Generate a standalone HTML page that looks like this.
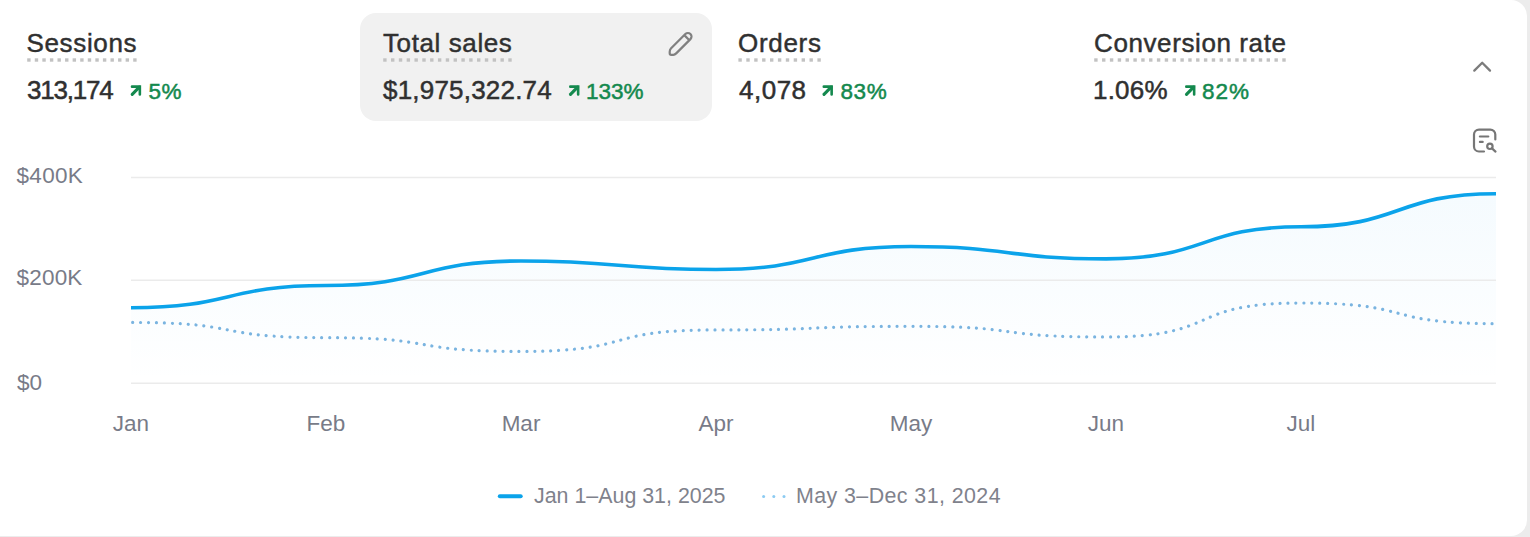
<!DOCTYPE html>
<html><head><meta charset="utf-8">
<style>
html,body{margin:0;padding:0;width:1530px;height:537px;overflow:hidden;background:#ececec;}
body{font-family:"Liberation Sans",sans-serif;position:relative;}
.card{position:absolute;left:-20px;top:0;width:1547px;height:536px;background:#fff;border-radius:16px;}
.t{position:absolute;white-space:nowrap;line-height:1;}
.lbl{font-size:26px;color:#303030;-webkit-text-stroke:0.45px #303030;}
.num{font-size:26px;color:#303030;-webkit-text-stroke:0.5px #303030;}
.pct{font-size:22.5px;color:#14894e;-webkit-text-stroke:0.5px #14894e;}
.ax{font-size:22.5px;color:#787b88;}
.xl{width:100px;text-align:center;top:412.85px;}
.lg{font-size:21.4px;color:#7f828c;}
.sel{position:absolute;left:360px;top:13px;width:351.5px;height:108px;background:#f1f1f1;border-radius:16px;}
svg{position:absolute;left:0;top:0;}
</style></head><body>
<div class="card"></div>
<div class="sel"></div>

<div class="t lbl" style="left:26.5px;top:29.6px;letter-spacing:0.65px">Sessions</div>
<div class="t num" style="left:27px;top:77.2px;letter-spacing:-1.2px">313,174</div>
<div class="t pct" style="left:148.5px;top:81.15px;letter-spacing:0.5px">5%</div>

<div class="t lbl" style="left:383px;top:29.6px;letter-spacing:0.6px">Total sales</div>
<div class="t num" style="left:383px;top:77.2px;letter-spacing:0.2px">$1,975,322.74</div>
<div class="t pct" style="left:586px;top:81.15px">133%</div>

<div class="t lbl" style="left:738px;top:29.6px;letter-spacing:0.7px">Orders</div>
<div class="t num" style="left:739px;top:77.2px;letter-spacing:0.5px">4,078</div>
<div class="t pct" style="left:840.5px;top:81.15px;letter-spacing:0.6px">83%</div>

<div class="t lbl" style="left:1094px;top:29.6px;letter-spacing:0.6px">Conversion rate</div>
<div class="t num" style="left:1093px;top:77.2px;letter-spacing:0.2px">1.06%</div>
<div class="t pct" style="left:1202px;top:81.15px;letter-spacing:1px">82%</div>

<div class="t ax" style="left:16.5px;top:165.45px;letter-spacing:0.3px">$400K</div>
<div class="t ax" style="left:16.5px;top:267.45px;letter-spacing:0.2px">$200K</div>
<div class="t ax" style="left:17px;top:372.35px">$0</div>

<div class="t ax xl" style="left:81px">Jan</div>
<div class="t ax xl" style="left:276px">Feb</div>
<div class="t ax xl" style="left:471px">Mar</div>
<div class="t ax xl" style="left:666px">Apr</div>
<div class="t ax xl" style="left:861px">May</div>
<div class="t ax xl" style="left:1056px">Jun</div>
<div class="t ax xl" style="left:1251px">Jul</div>

<div class="t lg" style="left:534px;top:485.6px">Jan 1–Aug 31, 2025</div>
<div class="t lg" style="left:796px;top:485.6px;letter-spacing:0.42px">May 3–Dec 31, 2024</div>

<svg width="1530" height="537" viewBox="0 0 1530 537">
  <defs>
    <linearGradient id="fill" x1="0" y1="0" x2="0" y2="1">
      <stop offset="0" stop-color="#1aa3ee" stop-opacity="0.045"/>
      <stop offset="1" stop-color="#1aa3ee" stop-opacity="0.0"/>
    </linearGradient>
  </defs>
  <path d="M131,307.7 C232.4,307.7 224.6,285.56 326,285.56 C427.4,285.56 419.6,260.98 521,260.98 C622.4,260.98 614.6,269.53 716,269.53 C817.4,269.53 809.6,246.55 911,246.55 C1012.4,246.55 1004.6,258.87 1106,258.87 C1207.4,258.87 1199.6,226.8 1301,226.8 C1402.4,226.8 1394.6,193.7 1496,193.7 L1496,383 L131,383 Z" fill="url(#fill)"/>
  <g stroke="#ebebeb" stroke-width="1.5">
    <line x1="131" y1="177.4" x2="1496" y2="177.4"/>
    <line x1="131" y1="280.3" x2="1496" y2="280.3"/>
    <line x1="131" y1="383.2" x2="1496" y2="383.2"/>
  </g>
  <path d="M131,322.44 C248.0,322.44 209.0,337.65 326,337.65 C443.0,337.65 404.0,351.41 521,351.41 C638.0,351.41 599.0,329.93 716,329.93 C833.0,329.93 794.0,326.32 911,326.32 C1028.0,326.32 989.0,336.97 1106,336.97 C1223.0,336.97 1184.0,303.02 1301,303.02 C1418.0,303.02 1379.0,323.66 1496,323.66" fill="none" stroke="#7ab4e0" stroke-width="3.2" stroke-dasharray="0.01 7.91" stroke-dashoffset="-1.6" stroke-linecap="round"/>
  <path d="M131,307.7 C232.4,307.7 224.6,285.56 326,285.56 C427.4,285.56 419.6,260.98 521,260.98 C622.4,260.98 614.6,269.53 716,269.53 C817.4,269.53 809.6,246.55 911,246.55 C1012.4,246.55 1004.6,258.87 1106,258.87 C1207.4,258.87 1199.6,226.8 1301,226.8 C1402.4,226.8 1394.6,193.7 1496,193.7" fill="none" stroke="#0ba3ea" stroke-width="3.6"/>

  <g fill="#c2c2c2"><rect x="27.20" y="58.3" width="3.4" height="3.4"/><rect x="34.77" y="58.3" width="3.4" height="3.4"/><rect x="42.34" y="58.3" width="3.4" height="3.4"/><rect x="49.91" y="58.3" width="3.4" height="3.4"/><rect x="57.49" y="58.3" width="3.4" height="3.4"/><rect x="65.06" y="58.3" width="3.4" height="3.4"/><rect x="72.63" y="58.3" width="3.4" height="3.4"/><rect x="80.20" y="58.3" width="3.4" height="3.4"/><rect x="87.77" y="58.3" width="3.4" height="3.4"/><rect x="95.34" y="58.3" width="3.4" height="3.4"/><rect x="102.91" y="58.3" width="3.4" height="3.4"/><rect x="110.49" y="58.3" width="3.4" height="3.4"/><rect x="118.06" y="58.3" width="3.4" height="3.4"/><rect x="125.63" y="58.3" width="3.4" height="3.4"/><rect x="133.20" y="58.3" width="3.4" height="3.4"/><rect x="383.20" y="58.3" width="3.4" height="3.4"/><rect x="391.02" y="58.3" width="3.4" height="3.4"/><rect x="398.84" y="58.3" width="3.4" height="3.4"/><rect x="406.66" y="58.3" width="3.4" height="3.4"/><rect x="414.47" y="58.3" width="3.4" height="3.4"/><rect x="422.29" y="58.3" width="3.4" height="3.4"/><rect x="430.11" y="58.3" width="3.4" height="3.4"/><rect x="437.93" y="58.3" width="3.4" height="3.4"/><rect x="445.75" y="58.3" width="3.4" height="3.4"/><rect x="453.57" y="58.3" width="3.4" height="3.4"/><rect x="461.39" y="58.3" width="3.4" height="3.4"/><rect x="469.21" y="58.3" width="3.4" height="3.4"/><rect x="477.03" y="58.3" width="3.4" height="3.4"/><rect x="484.84" y="58.3" width="3.4" height="3.4"/><rect x="492.66" y="58.3" width="3.4" height="3.4"/><rect x="500.48" y="58.3" width="3.4" height="3.4"/><rect x="508.30" y="58.3" width="3.4" height="3.4"/><rect x="738.40" y="58.3" width="3.4" height="3.4"/><rect x="746.30" y="58.3" width="3.4" height="3.4"/><rect x="754.20" y="58.3" width="3.4" height="3.4"/><rect x="762.10" y="58.3" width="3.4" height="3.4"/><rect x="770.00" y="58.3" width="3.4" height="3.4"/><rect x="777.90" y="58.3" width="3.4" height="3.4"/><rect x="785.80" y="58.3" width="3.4" height="3.4"/><rect x="793.70" y="58.3" width="3.4" height="3.4"/><rect x="801.60" y="58.3" width="3.4" height="3.4"/><rect x="809.50" y="58.3" width="3.4" height="3.4"/><rect x="817.40" y="58.3" width="3.4" height="3.4"/><rect x="1094.20" y="58.3" width="3.4" height="3.4"/><rect x="1102.04" y="58.3" width="3.4" height="3.4"/><rect x="1109.88" y="58.3" width="3.4" height="3.4"/><rect x="1117.71" y="58.3" width="3.4" height="3.4"/><rect x="1125.55" y="58.3" width="3.4" height="3.4"/><rect x="1133.39" y="58.3" width="3.4" height="3.4"/><rect x="1141.23" y="58.3" width="3.4" height="3.4"/><rect x="1149.06" y="58.3" width="3.4" height="3.4"/><rect x="1156.90" y="58.3" width="3.4" height="3.4"/><rect x="1164.74" y="58.3" width="3.4" height="3.4"/><rect x="1172.58" y="58.3" width="3.4" height="3.4"/><rect x="1180.41" y="58.3" width="3.4" height="3.4"/><rect x="1188.25" y="58.3" width="3.4" height="3.4"/><rect x="1196.09" y="58.3" width="3.4" height="3.4"/><rect x="1203.92" y="58.3" width="3.4" height="3.4"/><rect x="1211.76" y="58.3" width="3.4" height="3.4"/><rect x="1219.60" y="58.3" width="3.4" height="3.4"/><rect x="1227.44" y="58.3" width="3.4" height="3.4"/><rect x="1235.27" y="58.3" width="3.4" height="3.4"/><rect x="1243.11" y="58.3" width="3.4" height="3.4"/><rect x="1250.95" y="58.3" width="3.4" height="3.4"/><rect x="1258.79" y="58.3" width="3.4" height="3.4"/><rect x="1266.62" y="58.3" width="3.4" height="3.4"/><rect x="1274.46" y="58.3" width="3.4" height="3.4"/><rect x="1282.30" y="58.3" width="3.4" height="3.4"/></g>
  <!-- arrows -->
  <g fill="none" stroke="#14894e" stroke-width="2.8">
    <g transform="translate(130.7,85.3)"><path d="M1.3,1.35 H9.15 V9.2" stroke-linecap="round" stroke-width="2.6"/><path d="M1.5,9 L8.6,1.9" stroke-width="3.1" stroke-linecap="round"/></g>
    <g transform="translate(569,85.3)"><path d="M1.3,1.35 H9.15 V9.2" stroke-linecap="round" stroke-width="2.6"/><path d="M1.5,9 L8.6,1.9" stroke-width="3.1" stroke-linecap="round"/></g>
    <g transform="translate(822.5,85.3)"><path d="M1.3,1.35 H9.15 V9.2" stroke-linecap="round" stroke-width="2.6"/><path d="M1.5,9 L8.6,1.9" stroke-width="3.1" stroke-linecap="round"/></g>
    <g transform="translate(1185,85.3)"><path d="M1.3,1.35 H9.15 V9.2" stroke-linecap="round" stroke-width="2.6"/><path d="M1.5,9 L8.6,1.9" stroke-width="3.1" stroke-linecap="round"/></g>
  </g>
  <!-- pencil -->
  <path d="M685.35,34.05 L671.1,48.31 Q669.7,49.71 669.7,51.7 V53.3 Q669.7,54.8 671.2,54.8 H673.4 Q674.79,54.8 676.2,53.39 L690.45,39.15 A3.6,3.6 0 0 0 685.35,34.05 Z M684.29,35.11 L689.39,40.21" fill="none" stroke="#808080" stroke-width="2.2" stroke-linejoin="round"/>
  <!-- chevron -->
  <path d="M1474.3,70.6 L1482.2,62.8 L1490,70.6" fill="none" stroke="#7c7c7c" stroke-width="2.3" stroke-linecap="round" stroke-linejoin="round"/>
  <!-- doc search -->
  <g fill="none" stroke="#767676" stroke-width="2.2" stroke-linecap="round">
    <path d="M1484,151.5 H1479 A5,5 0 0 1 1474,146.5 V134.6 A5,5 0 0 1 1479,129.6 H1490.3 A5,5 0 0 1 1495.3,134.6 V139.4"/>
    <path d="M1479.9,136.5 H1488.3 M1479.9,141.9 H1482.7"/>
    <circle cx="1489.9" cy="146.3" r="2.7"/>
    <path d="M1492,148.4 L1495.5,151.6"/>
  </g>
  <!-- legend -->
  <path d="M499.8,496.3 H520.7" stroke="#0ba3ea" stroke-width="4" stroke-linecap="round"/>
  <g fill="#8ccbf2"><circle cx="763.6" cy="496.5" r="1.5"/><circle cx="773.8" cy="496.5" r="1.5"/><circle cx="784" cy="496.5" r="1.5"/></g>
</svg>
</body></html>
